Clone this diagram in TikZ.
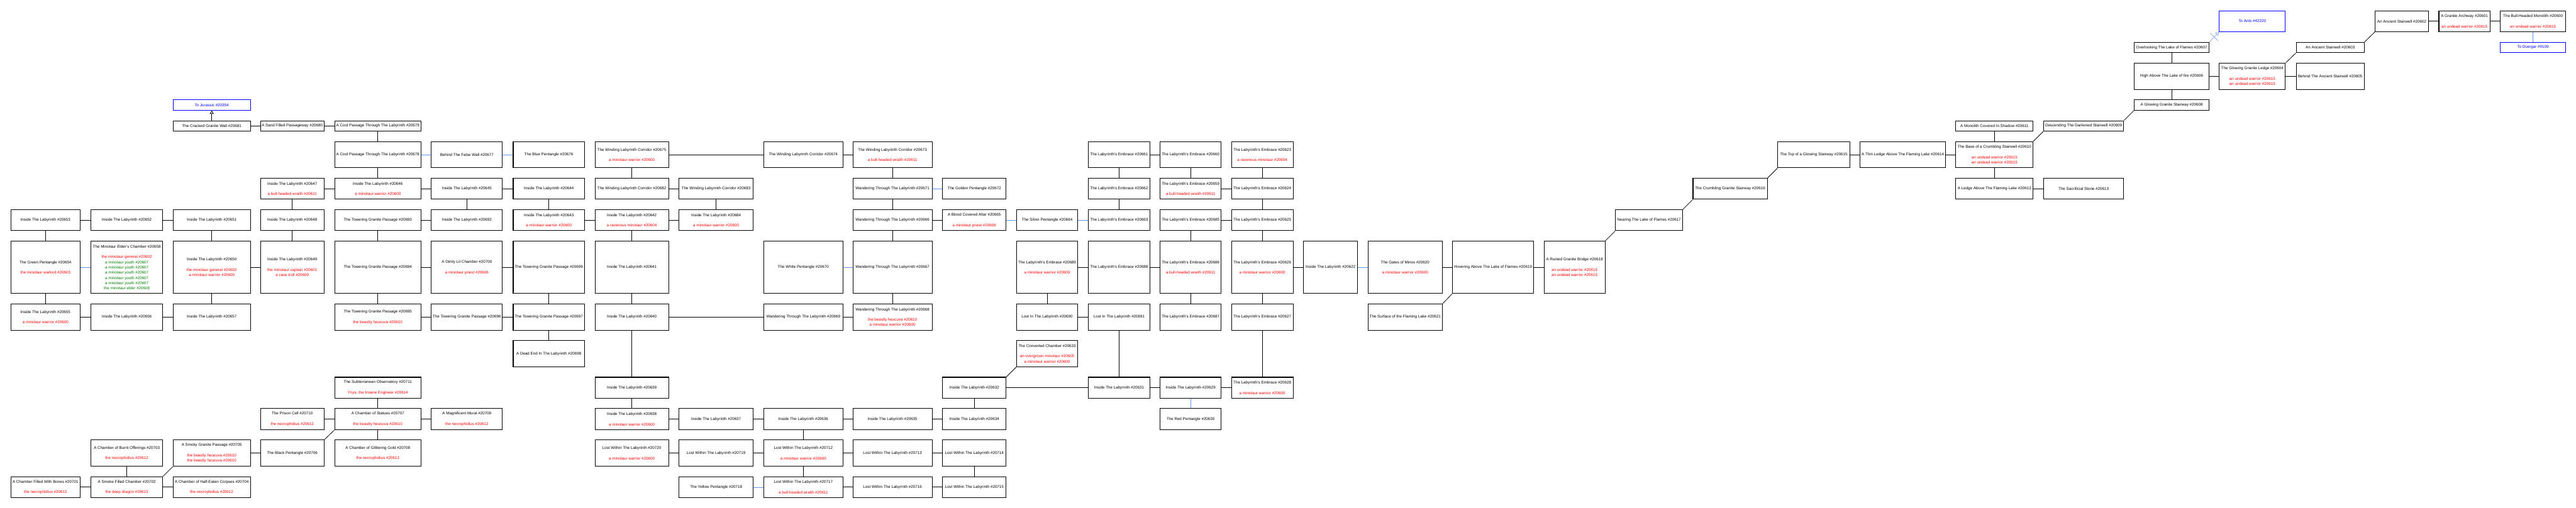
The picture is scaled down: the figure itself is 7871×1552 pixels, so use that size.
\documentclass[tikz,border=0pt]{standalone}
\usepackage{fontspec}
\setmainfont{Liberation Sans}
\usetikzlibrary{arrows.meta,decorations.markings}
\definecolor{foered}{RGB}{255,0,0}
\definecolor{kingreen}{RGB}{0,128,0}
\definecolor{portalblue}{RGB}{0,0,255}
\definecolor{hidblue}{RGB}{100,149,237}
\newcommand{\foe}[1]{\textcolor{foered}{#1}}
\newcommand{\kin}[1]{\textcolor{kingreen}{#1}}
\begin{document}
\begin{tikzpicture}[x=1pt, y=-1pt,
    room/.style={draw, line width=2pt, anchor=north west, align=center, inner sep=2pt,
      font=\fontsize{12}{16}\selectfont},
    portal/.style={room, draw=portalblue, text=portalblue},
    link/.style={line width=1.5pt},
    secret/.style={draw=hidblue, line width=1pt, postaction={decorate},
      decoration={markings, mark=at position 0.5 with {\draw[hidblue, line width=1pt, -] (0,-16pt) -- (0,16pt);}}},
    oneway/.style={line width=1.5pt, -{Triangle[open, length=10pt, width=12pt]}}]
      \useasboundingbox (0,0) rectangle (7871,1552);
      % column A
      \node[room, minimum width=212, minimum height=64] (r20653) at (32,640) {Inside The Labyrinth \#20653};
      \node[room, minimum width=212, minimum height=160] (r20654) at (32,736) {The Green Pentangle \#20654\\[16pt]\foe{the minotaur warlord \#20603}};
      \node[room, minimum width=212, minimum height=80] (r20655) at (32,928) {Inside The Labyrinth \#20655\\[16pt]\foe{a minotaur warrior \#20600}};
      \node[room, minimum width=212, minimum height=64] (r20701) at (32,1456) {A Chamber Filled With Bones \#20701\\[16pt]\foe{the necrophidius \#20612}};
      % column B
      \node[room, minimum width=219, minimum height=64] (r20652) at (277,640) {Inside The Labyrinth \#20652};
      \node[room, minimum width=219, minimum height=160] (r20658) at (277,736) {The Minotaur Elder's Chamber \#20658\\[16pt]\foe{the minotaur general \#20602}\\\kin{a minotaur youth \#20607}\\\kin{a minotaur youth \#20607}\\\kin{a minotaur youth \#20607}\\\kin{a minotaur youth \#20607}\\\kin{a minotaur youth \#20607}\\\kin{the minotaur elder \#20608}};
      \node[room, minimum width=219, minimum height=80] (r20656) at (277,928) {Inside The Labyrinth \#20656};
      \node[room, minimum width=219, minimum height=80] (r20703) at (277,1344) {A Chamber of Burnt Offerings \#20703\\[16pt]\foe{the necrophidius \#20612}};
      \node[room, minimum width=219, minimum height=64] (r20702) at (277,1456) {A Smoke Filled Chamber \#20702\\[16pt]\foe{the deep dragon \#20613}};
      % column C
      \node[portal, minimum width=236, minimum height=32] (r20354) at (528,304) {To Jurassic \#20354};
      \node[room, minimum width=236, minimum height=32] (r20681) at (528,368) {The Cracked Granite Wall \#20681};
      \node[room, minimum width=236, minimum height=64] (r20651) at (528,640) {Inside The Labyrinth \#20651};
      \node[room, minimum width=236, minimum height=160] (r20650) at (528,736) {Inside The Labyrinth \#20650\\[16pt]\foe{the minotaur general \#20602}\\\foe{a minotaur warrior \#20600}};
      \node[room, minimum width=236, minimum height=80] (r20657) at (528,928) {Inside The Labyrinth \#20657};
      \node[room, minimum width=236, minimum height=80] (r20705) at (528,1344) {A Smoky Granite Passage \#20705\\[16pt]\foe{the beastly heucuva \#20610}\\\foe{the beastly heucuva \#20610}};
      \node[room, minimum width=236, minimum height=64] (r20704) at (528,1456) {A Chamber of Half-Eaten Corpses \#20704\\[16pt]\foe{the necrophidius \#20612}};
      % column D
      \node[room, minimum width=194, minimum height=32] (r20680) at (795,368) {A Sand Filled Passageway \#20680};
      \node[room, minimum width=194, minimum height=64] (r20647) at (795,544) {Inside The Labyrinth \#20647\\[16pt]\foe{a bull-headed wraith \#20611}};
      \node[room, minimum width=194, minimum height=64] (r20648) at (795,640) {Inside The Labyrinth \#20648};
      \node[room, minimum width=194, minimum height=160] (r20649) at (795,736) {Inside The Labyrinth \#20649\\[16pt]\foe{the minotaur captain \#20601}\\\foe{a cave troll \#20609}};
      \node[room, minimum width=194, minimum height=64] (r20710) at (795,1248) {The Prison Cell \#20710\\[16pt]\foe{the necrophidius \#20612}};
      \node[room, minimum width=194, minimum height=80] (r20706) at (795,1344) {The Black Pentangle \#20706};
      % column E
      \node[room, minimum width=263, minimum height=32] (r20679) at (1022,368) {A Cool Passage Through The Labyrinth \#20679};
      \node[room, minimum width=263, minimum height=80] (r20678) at (1022,432) {A Cool Passage Through The Labyrinth \#20678};
      \node[room, minimum width=263, minimum height=64] (r20646) at (1022,544) {Inside The Labyrinth \#20646\\[16pt]\foe{a minotaur warrior \#20600}};
      \node[room, minimum width=263, minimum height=64] (r20693) at (1022,640) {The Towering Granite Passage \#20693};
      \node[room, minimum width=263, minimum height=160] (r20694) at (1022,736) {The Towering Granite Passage \#20694};
      \node[room, minimum width=263, minimum height=80] (r20695) at (1022,928) {The Towering Granite Passage \#20695\\[16pt]\foe{the beastly heucuva \#20610}};
      \node[room, minimum width=263, minimum height=64] (r20711) at (1022,1152) {The Subterranean Observatory \#20711\\[16pt]\foe{Ynys, the Insane Engineer \#20614}};
      \node[room, minimum width=263, minimum height=64] (r20707) at (1022,1248) {A Chamber of Statues \#20707\\[16pt]\foe{the beastly heucuva \#20610}};
      \node[room, minimum width=263, minimum height=80] (r20708) at (1022,1344) {A Chamber of Glittering Gold \#20708\\[16pt]\foe{the necrophidius \#20612}};
      % column F
      \node[room, minimum width=217, minimum height=80] (r20677) at (1317,432) {Behind The False Wall \#20677};
      \node[room, minimum width=217, minimum height=64] (r20645) at (1317,544) {Inside The Labyrinth \#20645};
      \node[room, minimum width=217, minimum height=64] (r20692) at (1317,640) {Inside The Labyrinth \#20692};
      \node[room, minimum width=217, minimum height=160] (r20700) at (1317,736) {A Dimly Lit Chamber \#20700\\[16pt]\foe{a minotaur priest \#20606}};
      \node[room, minimum width=217, minimum height=80] (r20696) at (1317,928) {The Towering Granite Passage \#20696};
      \node[room, minimum width=217, minimum height=64] (r20709) at (1317,1248) {A Magnificent Mural \#20709\\[16pt]\foe{the necrophidius \#20612}};
      % column G
      \node[room, minimum width=218, minimum height=80] (r20676) at (1567,432) {The Blue Pentangle \#20676};
      \node[room, minimum width=218, minimum height=64] (r20644) at (1567,544) {Inside The Labyrinth \#20644};
      \node[room, minimum width=218, minimum height=64] (r20643) at (1567,640) {Inside The Labyrinth \#20643\\[16pt]\foe{a minotaur warrior \#20600}};
      \node[room, minimum width=218, minimum height=160] (r20699) at (1567,736) {The Towering Granite Passage \#20699};
      \node[room, minimum width=218, minimum height=80] (r20697) at (1567,928) {The Towering Granite Passage \#20697};
      \node[room, minimum width=218, minimum height=80] (r20698) at (1567,1040) {A Dead End In The Labyrinth \#20698};
      % column H
      \node[room, minimum width=225, minimum height=80] (r20675) at (1817,432) {The Winding Labyrinth Corridor \#20675\\[16pt]\foe{a minotaur warrior \#20600}};
      \node[room, minimum width=225, minimum height=64] (r20682) at (1817,544) {The Winding Labyrinth Corridor \#20682};
      \node[room, minimum width=225, minimum height=64] (r20642) at (1817,640) {Inside The Labyrinth \#20642\\[16pt]\foe{a ravenous minotaur \#20604}};
      \node[room, minimum width=225, minimum height=160] (r20641) at (1817,736) {Inside The Labyrinth \#20641};
      \node[room, minimum width=225, minimum height=80] (r20640) at (1817,928) {Inside The Labyrinth \#20640};
      \node[room, minimum width=225, minimum height=64] (r20639) at (1817,1152) {Inside The Labyrinth \#20639};
      \node[room, minimum width=225, minimum height=64] (r20638) at (1817,1248) {Inside The Labyrinth \#20638\\[16pt]\foe{a minotaur warrior \#20600}};
      \node[room, minimum width=225, minimum height=80] (r20720) at (1817,1344) {Lost Within The Labyrinth \#20720\\[16pt]\foe{a minotaur warrior \#20600}};
      % column I
      \node[room, minimum width=226, minimum height=64] (r20683) at (2074,544) {The Winding Labyrinth Corridor \#20683};
      \node[room, minimum width=226, minimum height=64] (r20684) at (2074,640) {Inside The Labyrinth \#20684\\[16pt]\foe{a minotaur warrior \#20600}};
      \node[room, minimum width=226, minimum height=64] (r20637) at (2074,1248) {Inside The Labyrinth \#20637};
      \node[room, minimum width=226, minimum height=80] (r20719) at (2074,1344) {Lost Within The Labyrinth \#20719};
      \node[room, minimum width=226, minimum height=64] (r20718) at (2074,1456) {The Yellow Pentangle \#20718};
      % column J
      \node[room, minimum width=241, minimum height=80] (r20674) at (2333,432) {The Winding Labyrinth Corridor \#20674};
      \node[room, minimum width=241, minimum height=160] (r20670) at (2333,736) {The White Pentangle \#20670};
      \node[room, minimum width=241, minimum height=80] (r20669) at (2333,928) {Wandering Through The Labyrinth \#20669};
      \node[room, minimum width=241, minimum height=64] (r20636) at (2333,1248) {Inside The Labyrinth \#20636};
      \node[room, minimum width=241, minimum height=80] (r20712) at (2333,1344) {Lost Within The Labyrinth \#20712\\[16pt]\foe{a minotaur warrior \#20600}};
      \node[room, minimum width=241, minimum height=64] (r20717) at (2333,1456) {Lost Within The Labyrinth \#20717\\[16pt]\foe{a bull-headed wraith \#20611}};
      % column K
      \node[room, minimum width=242, minimum height=80] (r20673) at (2605,432) {The Winding Labyrinth Corridor \#20673\\[16pt]\foe{a bull-headed wraith \#20611}};
      \node[room, minimum width=242, minimum height=64] (r20671) at (2605,544) {Wandering Through The Labyrinth \#20671};
      \node[room, minimum width=242, minimum height=64] (r20666) at (2605,640) {Wandering Through The Labyrinth \#20666};
      \node[room, minimum width=242, minimum height=160] (r20667) at (2605,736) {Wandering Through The Labyrinth \#20667};
      \node[room, minimum width=242, minimum height=80] (r20668) at (2605,928) {Wandering Through The Labyrinth \#20668\\[16pt]\foe{the beastly heucuva \#20610}\\\foe{a minotaur warrior \#20600}};
      \node[room, minimum width=242, minimum height=64] (r20635) at (2605,1248) {Inside The Labyrinth \#20635};
      \node[room, minimum width=242, minimum height=80] (r20713) at (2605,1344) {Lost Within The Labyrinth \#20713};
      \node[room, minimum width=242, minimum height=64] (r20716) at (2605,1456) {Lost Within The Labyrinth \#20716};
      % column L
      \node[room, minimum width=194, minimum height=64] (r20672) at (2879,544) {The Golden Pentangle \#20672};
      \node[room, minimum width=194, minimum height=64] (r20665) at (2879,640) {A Blood Covered Altar \#20665\\[16pt]\foe{a minotaur priest \#20606}};
      \node[room, minimum width=194, minimum height=64] (r20632) at (2879,1152) {Inside The Labyrinth \#20632};
      \node[room, minimum width=194, minimum height=64] (r20634) at (2879,1248) {Inside The Labyrinth \#20634};
      \node[room, minimum width=194, minimum height=80] (r20714) at (2879,1344) {Lost Within The Labyrinth \#20714};
      \node[room, minimum width=194, minimum height=64] (r20715) at (2879,1456) {Lost Within The Labyrinth \#20715};
      % column M
      \node[room, minimum width=187, minimum height=64] (r20664) at (3105,640) {The Silver Pentangle \#20664};
      \node[room, minimum width=187, minimum height=160] (r20689) at (3105,736) {The Labyrinth's Embrace \#20689\\[16pt]\foe{a minotaur warrior \#20600}};
      \node[room, minimum width=187, minimum height=80] (r20690) at (3105,928) {Lost In The Labyrinth \#20690};
      \node[room, minimum width=187, minimum height=80] (r20633) at (3105,1040) {The Converted Chamber \#20633\\[16pt]\foe{an overgrown minotaur \#20605}\\\foe{a minotaur warrior \#20600}};
      % column N
      \node[room, minimum width=187, minimum height=80] (r20661) at (3325,432) {The Labyrinth's Embrace \#20661};
      \node[room, minimum width=187, minimum height=64] (r20662) at (3325,544) {The Labyrinth's Embrace \#20662};
      \node[room, minimum width=187, minimum height=64] (r20663) at (3325,640) {The Labyrinth's Embrace \#20663};
      \node[room, minimum width=187, minimum height=160] (r20688) at (3325,736) {The Labyrinth's Embrace \#20688};
      \node[room, minimum width=187, minimum height=80] (r20691) at (3325,928) {Lost In The Labyrinth \#20691};
      \node[room, minimum width=187, minimum height=64] (r20631) at (3325,1152) {Inside The Labyrinth \#20631};
      % column O
      \node[room, minimum width=186, minimum height=80] (r20660) at (3544,432) {The Labyrinth's Embrace \#20660};
      \node[room, minimum width=186, minimum height=64] (r20659) at (3544,544) {The Labyrinth's Embrace \#20659\\[16pt]\foe{a bull-headed wraith \#20611}};
      \node[room, minimum width=186, minimum height=64] (r20685) at (3544,640) {The Labyrinth's Embrace \#20685};
      \node[room, minimum width=186, minimum height=160] (r20686) at (3544,736) {The Labyrinth's Embrace \#20686\\[16pt]\foe{a bull-headed wraith \#20611}};
      \node[room, minimum width=186, minimum height=80] (r20687) at (3544,928) {The Labyrinth's Embrace \#20687};
      \node[room, minimum width=186, minimum height=64] (r20629) at (3544,1152) {Inside The Labyrinth \#20629};
      \node[room, minimum width=186, minimum height=64] (r20630) at (3544,1248) {The Red Pentangle \#20630};
      % column P
      \node[room, minimum width=188, minimum height=80] (r20623) at (3762,432) {The Labyrinth's Embrace \#20623\\[16pt]\foe{a ravenous minotaur \#20604}};
      \node[room, minimum width=188, minimum height=64] (r20624) at (3762,544) {The Labyrinth's Embrace \#20624};
      \node[room, minimum width=188, minimum height=64] (r20625) at (3762,640) {The Labyrinth's Embrace \#20625};
      \node[room, minimum width=188, minimum height=160] (r20626) at (3762,736) {The Labyrinth's Embrace \#20626\\[16pt]\foe{a minotaur warrior \#20600}};
      \node[room, minimum width=188, minimum height=80] (r20627) at (3762,928) {The Labyrinth's Embrace \#20627};
      \node[room, minimum width=188, minimum height=64] (r20628) at (3762,1152) {The Labyrinth's Embrace \#20628\\[16pt]\foe{a minotaur warrior \#20600}};
      % lake of flames
      \node[room, minimum width=165, minimum height=160] (r20622) at (3982,736) {Inside The Labyrinth \#20622};
      \node[room, minimum width=227, minimum height=160] (r20620) at (4179,736) {The Gates of Minos \#20620\\[16pt]\foe{a minotaur warrior \#20600}};
      \node[room, minimum width=227, minimum height=80] (r20621) at (4179,928) {The Surface of the Flaming Lake \#20621};
      \node[room, minimum width=248, minimum height=160] (r20619) at (4437,736) {Hovering Above The Lake of Flames \#20619};
      \node[room, minimum width=186, minimum height=160] (r20618) at (4717,736) {A Ruined Granite Bridge \#20618\\[16pt]\foe{an undead warrior \#20615}\\\foe{an undead warrior \#20615}};
      \node[room, minimum width=205, minimum height=64] (r20617) at (4935,640) {Nearing The Lake of Flames \#20617};
      \node[room, minimum width=227, minimum height=64] (r20616) at (5172,544) {The Crumbling Granite Stairway \#20616};
      \node[room, minimum width=220, minimum height=80] (r20615) at (5431,432) {The Top of a Glowing Stairway \#20615};
      \node[room, minimum width=260, minimum height=80] (r20614) at (5683,432) {A Thin Ledge Above The Flaming Lake \#20614};
      \node[room, minimum width=236, minimum height=32] (r20611) at (5975,368) {A Monolith Covered In Shadow \#20611};
      \node[room, minimum width=236, minimum height=80] (r20610) at (5975,432) {The Base of a Crumbling Stairwell \#20610\\[16pt]\foe{an undead warrior \#20615}\\\foe{an undead warrior \#20615}};
      \node[room, minimum width=236, minimum height=64] (r20612) at (5975,544) {A Ledge Above The Flaming Lake \#20612};
      \node[room, minimum width=245, minimum height=32] (r20609) at (6243,368) {Descending The Darkened Stairwell \#20609};
      \node[room, minimum width=245, minimum height=64] (r20613) at (6243,544) {The Sacrificial Stone \#20613};
      \node[room, minimum width=229, minimum height=32] (r20607) at (6520,128) {Overlooking The Lake of Flames \#20607};
      \node[room, minimum width=229, minimum height=80] (r20606) at (6520,192) {High Above The Lake of fire \#20606};
      \node[room, minimum width=229, minimum height=32] (r20608) at (6520,304) {A Glowing Granite Stairway \#20608};
      \node[portal, minimum width=202, minimum height=64] (r42220) at (6780,32) {To Ants \#42220};
      \node[room, minimum width=202, minimum height=80] (r20604) at (6780,192) {The Glowing Granite Ledge \#20604\\[16pt]\foe{an undead warrior \#20615}\\\foe{an undead warrior \#20615}};
      \node[room, minimum width=208, minimum height=32] (r20603) at (7015,128) {An Ancient Stairwell \#20603};
      \node[room, minimum width=208, minimum height=80] (r20605) at (7015,192) {Behind The Ancient Stairwell \#20605};
      \node[room, minimum width=163, minimum height=64] (r20602) at (7256,32) {An Ancient Stairwell \#20602};
      \node[room, minimum width=156, minimum height=64] (r20601) at (7451,32) {A Granite Archway \#20601\\[16pt]\foe{an undead warrior \#20615}};
      \node[room, minimum width=199, minimum height=64] (r20600) at (7639,32) {The Bull-Headed Monolith \#20600\\[16pt]\foe{an undead warrior \#20615}};
      \node[portal, minimum width=199, minimum height=32] (r9109) at (7639,128) {To Duergar \#9109};
      \begin{scope}[link]
        \draw (r20681) to (r20680);
        \draw (r20680) to (r20679);
        \draw (r20679) to (r20678);
        \draw (r20678) to (r20646);
        \draw (r20647) to (r20646);
        \draw (r20646) to (r20645);
        \draw (r20647) to (r20648);
        \draw (r20653) to (r20652);
        \draw (r20652) to (r20651);
        \draw (r20651) to (r20650);
        \draw (r20648) to (r20649);
        \draw (r20653) to (r20654);
        \draw (r20693) to (r20692);
        \draw (r20693) to (r20694);
        \draw (r20654) to (r20655);
        \draw (r20655) to (r20656);
        \draw (r20656) to (r20657);
        \draw (r20650) to (r20657);
        \draw (r20650) to (r20649);
        \draw (r20694) to (r20695);
        \draw (r20694) to (r20700);
        \draw (r20695) to (r20696);
        \draw (r20711) to (r20707);
        \draw (r20710) to (r20707);
        \draw (r20707) to (r20708);
        \draw (r20707) to (r20709);
        \draw (r20707.south west) to (r20706.north east);
        \draw (r20706) to (r20705);
        \draw (r20705.south west) to (r20702.north east);
        \draw (r20702) to (r20703);
        \draw (r20701) to (r20702);
        \draw (r20702) to (r20704);
        \draw (r20675) to (r20674);
        \draw (r20674) to (r20673);
        \draw (r20645) to (r20644);
        \draw (r20675) to (r20682);
        \draw (r20682) to (r20683);
        \draw (r20683) to (r20684);
        \draw (r20645) to (r20692);
        \draw (r20644) to (r20643);
        \draw (r20643) to (r20642);
        \draw (r20642) to (r20684);
        \draw (r20642) to (r20641);
        \draw (r20700) to (r20699);
        \draw (r20699) to (r20697);
        \draw (r20696) to (r20697);
        \draw (r20697) to (r20698);
        \draw (r20641) to (r20640);
        \draw (r20640) to (r20669);
        \draw (r20640) to (r20639);
        \draw (r20639) to (r20638);
        \draw (r20638) to (r20637);
        \draw (r20637) to (r20636);
        \draw (r20636) to (r20712);
        \draw (r20636) to (r20635);
        \draw (r20720) to (r20719);
        \draw (r20719) to (r20712);
        \draw (r20712) to (r20717);
        \draw (r20712) to (r20713);
        \draw (r20717) to (r20716);
        \draw (r20673) to (r20671);
        \draw (r20671) to (r20666);
        \draw (r20666) to (r20665);
        \draw (r20666) to (r20667);
        \draw (r20667) to (r20668);
        \draw (r20669) to (r20668);
        \draw (r20661) to (r20660);
        \draw (r20661) to (r20662);
        \draw (r20662) to (r20663);
        \draw (r20660) to (r20659);
        \draw (r20659) to (r20624);
        \draw (r20685) to (r20625);
        \draw (r20685) to (r20686);
        \draw (r20623) to (r20624);
        \draw (r20624) to (r20625);
        \draw (r20625) to (r20626);
        \draw (r20626) to (r20627);
        \draw (r20627) to (r20628);
        \draw (r20689) to (r20688);
        \draw (r20688) to (r20686);
        \draw (r20686) to (r20687);
        \draw (r20689) to (r20690);
        \draw (r20690) to (r20691);
        \draw (r20691) to (r20631);
        \draw (r20633.south west) to (r20632.north east);
        \draw (r20632) to (r20631);
        \draw (r20631) to (r20629);
        \draw (r20629) to (r20628);
        \draw (r20632) to (r20634);
        \draw (r20635) to (r20634);
        \draw (r20713) to (r20714);
        \draw (r20714) to (r20715);
        \draw (r20716) to (r20715);
        \draw (r20626) to (r20622);
        \draw (r20620) to (r20619);
        \draw (r20619) to (r20618);
        \draw (r20619.south west) to (r20621.north east);
        \draw (r20618.north east) to (r20617.south west);
        \draw (r20617.north east) to (r20616.south west);
        \draw (r20616.north east) to (r20615.south west);
        \draw (r20615) to (r20614);
        \draw (r20614) to (r20610);
        \draw (r20610) to (r20611);
        \draw (r20610.north east) to (r20609.south west);
        \draw (r20610) to (r20612);
        \draw (r20612) to (r20613);
        \draw (r20609.north east) to (r20608.south west);
        \draw (r20608) to (r20606);
        \draw (r20606) to (r20607);
        \draw (r20606) to (r20604);
        \draw (r20604) to (r20605);
        \draw (r20604.north east) to (r20603.south west);
        \draw (r20603.north east) to (r20602.south west);
        \draw (r20602) to (r20601);
        \draw (r20601) to (r20600);
      \end{scope}
      \begin{scope}[secret]
        \draw (r20678) to (r20677);
        \draw (r20677) to (r20676);
        \draw (r20654) to (r20658);
        \draw (r20671) to (r20672);
        \draw (r20665) to (r20664);
        \draw (r20664) to (r20663);
        \draw (r20670) to (r20667);
        \draw (r20718) to (r20717);
        \draw (r20629) to (r20630);
        \draw (r20622) to (r20620);
        \draw (r20600) to (r9109);
      \end{scope}
      \draw[oneway] (r20681) to (r20354);
      \draw[secret, -{Triangle[open, length=10pt, width=12pt]}] (r20607.north east) to (r42220.south west);
    \end{tikzpicture}
\end{document}
